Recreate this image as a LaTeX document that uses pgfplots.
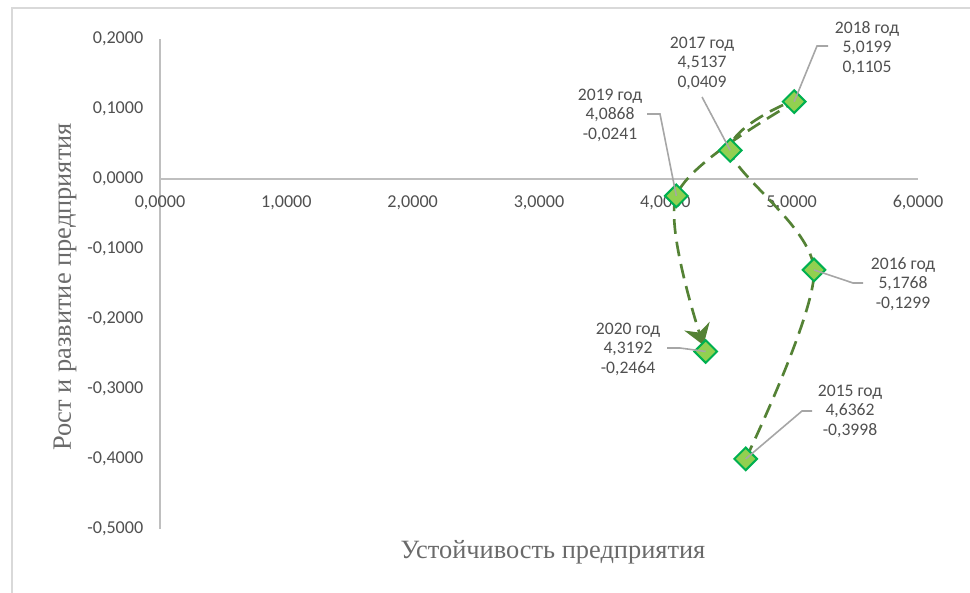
\documentclass[border=0pt]{standalone}
\usepackage{pgfplots}
\pgfplotsset{compat=1.18}
\usepackage{fontspec}
\setmainfont{Carlito}
\newfontfamily\titlefont{Liberation Serif}
\usetikzlibrary{arrows.meta}

\definecolor{axisgray}{HTML}{BFBFBF}
\definecolor{txtgray}{HTML}{505050}
\definecolor{leadgray}{HTML}{A6A6A6}
\definecolor{framegray}{HTML}{D9D9D9}
\definecolor{linegreen}{HTML}{548235}
\definecolor{mkfill}{HTML}{92D050}
\definecolor{mkedge}{HTML}{00B050}

\pgfplotstableread{
x y
4.6362 -0.3998
5.1768 -0.1299
4.5137 0.0409
5.0199 0.1105
4.0868 -0.0241
4.3192 -0.2464
}\pathdata

\begin{document}
\begin{tikzpicture}
% picture in pixel units of the reference (1px = 0.75pt)
\begin{scope}[x=0.75pt,y=-0.75pt]
  \useasboundingbox (0,0) rectangle (970,592);
  \draw[framegray, line width=1.5pt] (12,8) rectangle (1000,620);
\end{scope}

\begin{axis}[
    at={(120pt,-396.75pt)},
    anchor=south west,
    scale only axis,
    width=568.5pt,
    height=367.5pt,
    xmin=0, xmax=6,
    ymin=-0.5, ymax=0.2,
    axis x line=middle,
    axis y line=left,
    axis line style={draw=axisgray, line width=1.3pt, -},
    major tick length=0pt,
    xtick={0,1,...,6},
    ytick={-0.5,-0.4,...,0.2},
    hide obscured x ticks=false,
    hide obscured y ticks=false,
    ticklabel style={font=\fontsize{13.6}{15}\selectfont, text=txtgray},
    xticklabel style={yshift=-9pt},
    yticklabel style={xshift=-9pt},
    clip=false,
    /pgf/number format/.cd,
        fixed, fixed zerofill, precision=4,
        use comma, 1000 sep={},
        assume math mode=true,
]
\addplot[linegreen, line width=2pt, dash pattern=on 11pt off 6pt,
         smooth, shorten >=5pt, -{Stealth[length=15pt,width=20pt,inset=5pt]}]
    table[x=x,y=y] {\pathdata};
\addplot[only marks, mark=square*,
         mark options={rotate=45, fill=mkfill, draw=mkedge, line width=1.5pt},
         mark size=6pt]
    table[x=x,y=y] {\pathdata};

\coordinate (p15) at (axis cs:4.6362,-0.3998);
\coordinate (p16) at (axis cs:5.1768,-0.1299);
\coordinate (p17) at (axis cs:4.5137,0.0409);
\coordinate (p18) at (axis cs:5.0199,0.1105);
\coordinate (p19) at (axis cs:4.0868,-0.0241);
\coordinate (p20) at (axis cs:4.3192,-0.2464);
\end{axis}

\begin{scope}[x=0.75pt,y=-0.75pt]
  % leader lines
  \draw[leadgray, line width=1.2pt] (828,46) -- (817,46) -- (p18);
  \draw[leadgray, line width=1.2pt] (702,97) -- (p17);
  \draw[leadgray, line width=1.2pt] (647,114) -- (660,114) -- (p19);
  \draw[leadgray, line width=1.2pt] (863,283) -- (853,283) -- (p16);
  \draw[leadgray, line width=1.2pt] (667,348) -- (680,348) -- (p20);
  \draw[leadgray, line width=1.2pt] (812,411) -- (802,411) -- (p15);

  % data labels
  \begin{scope}[every node/.style={align=center, text=txtgray,
      font=\fontsize{13.2}{14.6}\selectfont, inner sep=0pt}]
    \node at (867,48)  {2018 год\\5,0199\\0,1105};
    \node at (702,63)  {2017 год\\4,5137\\0,0409};
    \node at (610,115) {2019 год\\4,0868\\-0,0241};
    \node at (903,284) {2016 год\\5,1768\\-0,1299};
    \node at (628,349) {2020 год\\4,3192\\-0,2464};
    \node at (850,411) {2015 год\\4,6362\\-0,3998};
  \end{scope}

  % axis titles
  \node[text=txtgray!85, font=\titlefont\fontsize{19.8}{24}\selectfont]
    at (553,552) {Устойчивость предприятия};
  \node[text=txtgray!85, font=\titlefont\fontsize{19.8}{24}\selectfont, rotate=90]
    at (65,287) {Рост и развитие предприятия};
\end{scope}
\end{tikzpicture}
\end{document}
